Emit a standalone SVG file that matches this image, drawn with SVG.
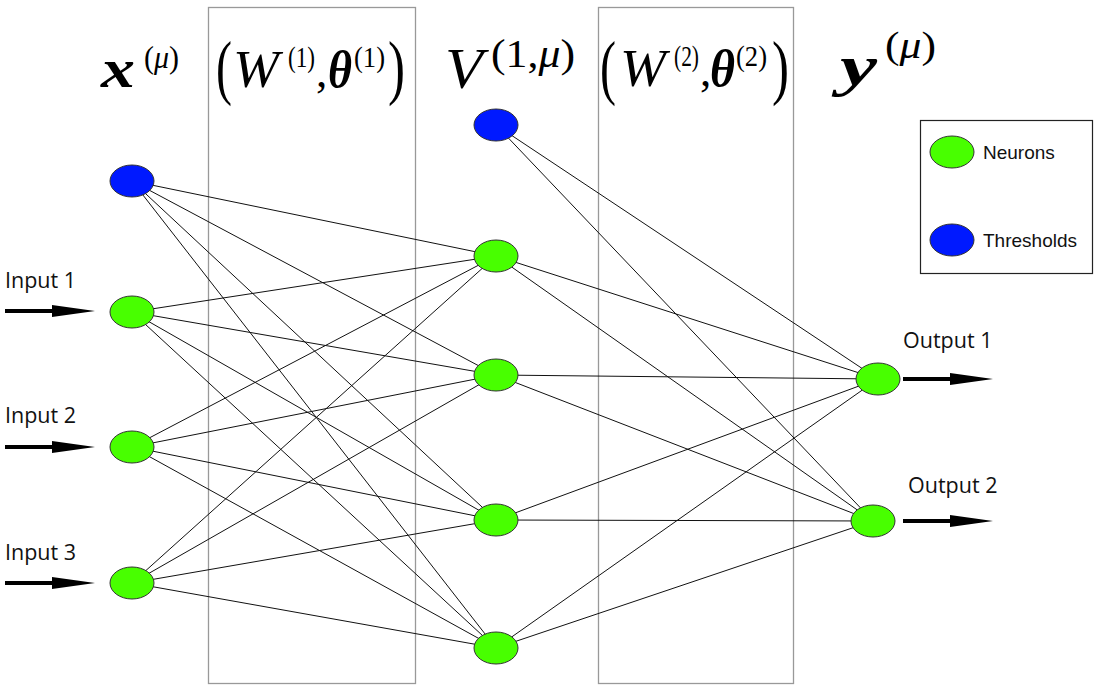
<svg xmlns="http://www.w3.org/2000/svg" width="1110" height="690" viewBox="0 0 1110 690">
<style>
.col{fill:none;stroke:#999;stroke-width:1.3}
.e{stroke:#111;stroke-width:1}
.n{fill:#48ff00;stroke:#333;stroke-width:1}
.t{fill:#0019ff;stroke:#333;stroke-width:1}
.lab{font-family:"Open Sans","Noto Sans",sans-serif;font-size:21.5px;fill:#111}
.leg{font-family:"Liberation Sans",Arial,sans-serif;font-size:19px;fill:#111}
.m{font-family:"Liberation Serif","DejaVu Serif",serif;fill:#000}
.mi{font-style:italic}
.mb{font-style:italic;font-weight:bold}
.up{font-style:normal;font-weight:normal}
.arr{fill:#000}
</style>
<rect width="1110" height="690" fill="#fff"/>
<g id="columns">
<rect class="col" x="208.5" y="7.5" width="207" height="676"/>
<rect class="col" x="598.5" y="7.5" width="195" height="676"/>
</g>
<g id="headers" class="m" font-weight="normal">
<text><tspan x="101" y="87" font-size="54" class="mb" textLength="34" lengthAdjust="spacingAndGlyphs">x</tspan><tspan x="144" y="68" font-size="31" class="up" textLength="35" lengthAdjust="spacingAndGlyphs">(<tspan class="mi">μ</tspan>)</tspan></text>
<text><tspan x="216" y="91" font-size="72" textLength="16" lengthAdjust="spacingAndGlyphs">(</tspan><tspan x="233" y="87" font-size="53" class="mi" textLength="46" lengthAdjust="spacingAndGlyphs">W</tspan><tspan x="288" y="67" font-size="30" textLength="27" lengthAdjust="spacingAndGlyphs">(1)</tspan><tspan x="316" y="87" font-size="45">,</tspan><tspan x="328" y="87" font-size="52" class="mb" textLength="24" lengthAdjust="spacingAndGlyphs">θ</tspan><tspan x="354" y="67" font-size="30" textLength="31" lengthAdjust="spacingAndGlyphs">(1)</tspan><tspan x="388" y="91" font-size="72" textLength="17" lengthAdjust="spacingAndGlyphs">)</tspan></text>
<text><tspan x="445" y="88" font-size="57" class="mi" textLength="38" lengthAdjust="spacingAndGlyphs">V</tspan><tspan x="491" y="67" font-size="41" textLength="84" lengthAdjust="spacingAndGlyphs">(1,<tspan class="mi">μ</tspan>)</tspan></text>
<text><tspan x="600" y="91" font-size="72" textLength="16" lengthAdjust="spacingAndGlyphs">(</tspan><tspan x="620" y="86" font-size="52" class="mi" textLength="46" lengthAdjust="spacingAndGlyphs">W</tspan><tspan x="674" y="66" font-size="29" textLength="25" lengthAdjust="spacingAndGlyphs">(2)</tspan><tspan x="700" y="86" font-size="45">,</tspan><tspan x="710" y="86" font-size="52" class="mb" textLength="25" lengthAdjust="spacingAndGlyphs">θ</tspan><tspan x="736" y="66" font-size="29" textLength="31" lengthAdjust="spacingAndGlyphs">(2)</tspan><tspan x="772" y="91" font-size="72" textLength="17" lengthAdjust="spacingAndGlyphs">)</tspan></text>
<text><tspan x="840" y="85" font-size="58" class="mb" textLength="37" lengthAdjust="spacingAndGlyphs">y</tspan><tspan x="885" y="58" font-size="38" class="up" textLength="51" lengthAdjust="spacingAndGlyphs">(<tspan class="mi">μ</tspan>)</tspan></text>
</g>
<g id="connectors" class="e">
<line x1="132" y1="181" x2="496" y2="256"/>
<line x1="132" y1="181" x2="496" y2="375"/>
<line x1="132" y1="181" x2="496" y2="520"/>
<line x1="132" y1="181" x2="496" y2="648"/>
<line x1="132" y1="312" x2="496" y2="256"/>
<line x1="132" y1="312" x2="496" y2="375"/>
<line x1="132" y1="312" x2="496" y2="520"/>
<line x1="132" y1="312" x2="496" y2="648"/>
<line x1="132" y1="447" x2="496" y2="256"/>
<line x1="132" y1="447" x2="496" y2="375"/>
<line x1="132" y1="447" x2="496" y2="520"/>
<line x1="132" y1="447" x2="496" y2="648"/>
<line x1="132" y1="583" x2="496" y2="256"/>
<line x1="132" y1="583" x2="496" y2="375"/>
<line x1="132" y1="583" x2="496" y2="520"/>
<line x1="132" y1="583" x2="496" y2="648"/>
<line x1="496" y1="125" x2="878" y2="379"/>
<line x1="496" y1="125" x2="873" y2="521"/>
<line x1="496" y1="256" x2="878" y2="379"/>
<line x1="496" y1="256" x2="873" y2="521"/>
<line x1="496" y1="375" x2="878" y2="379"/>
<line x1="496" y1="375" x2="873" y2="521"/>
<line x1="496" y1="520" x2="878" y2="379"/>
<line x1="496" y1="520" x2="873" y2="521"/>
<line x1="496" y1="648" x2="878" y2="379"/>
<line x1="496" y1="648" x2="873" y2="521"/>
</g>
<g id="arrows" class="arr">
<path d="M5,309 L52,309 L52,305 L95,311 L52,317 L52,313 L5,313 Z"/>
<path d="M5,445 L52,445 L52,441 L95,447 L52,453 L52,449 L5,449 Z"/>
<path d="M5,581 L52,581 L52,577 L95,583 L52,589 L52,585 L5,585 Z"/>
<path d="M903,377 L950,377 L950,373 L993,379 L950,385 L950,381 L903,381 Z"/>
<path d="M903,519 L950,519 L950,515 L993,521 L950,527 L950,523 L903,523 Z"/>
</g>
<g id="input-threshold"><ellipse class="t" cx="132" cy="181" rx="22" ry="16"/></g>
<g id="input-1"><ellipse class="n" cx="132" cy="312" rx="22" ry="16"/><text class="lab" x="5" y="288">Input 1</text></g>
<g id="input-2"><ellipse class="n" cx="132" cy="447" rx="22" ry="16"/><text class="lab" x="5" y="423">Input 2</text></g>
<g id="input-3"><ellipse class="n" cx="132" cy="583" rx="22" ry="16"/><text class="lab" x="5" y="560">Input 3</text></g>
<g id="hidden-threshold"><ellipse class="t" cx="496" cy="125" rx="22" ry="16"/></g>
<g id="hidden-1"><ellipse class="n" cx="496" cy="256" rx="22" ry="16"/></g>
<g id="hidden-2"><ellipse class="n" cx="496" cy="375" rx="22" ry="16"/></g>
<g id="hidden-3"><ellipse class="n" cx="496" cy="520" rx="22" ry="16"/></g>
<g id="hidden-4"><ellipse class="n" cx="496" cy="648" rx="22" ry="16"/></g>
<g id="output-1"><ellipse class="n" cx="878" cy="379" rx="22" ry="16"/><text class="lab" x="903" y="348">Output 1</text></g>
<g id="output-2"><ellipse class="n" cx="873" cy="521" rx="22" ry="16"/><text class="lab" x="908" y="493">Output 2</text></g>
<g id="legend">
<rect x="920.5" y="120.5" width="172" height="153" fill="#fff" stroke="#222" stroke-width="1.2"/>
<ellipse class="n" cx="952" cy="152" rx="22" ry="16"/>
<text class="leg" x="983" y="159">Neurons</text>
<ellipse class="t" cx="952" cy="240" rx="22" ry="16"/>
<text class="leg" x="983" y="247">Thresholds</text>
</g>
</svg>
